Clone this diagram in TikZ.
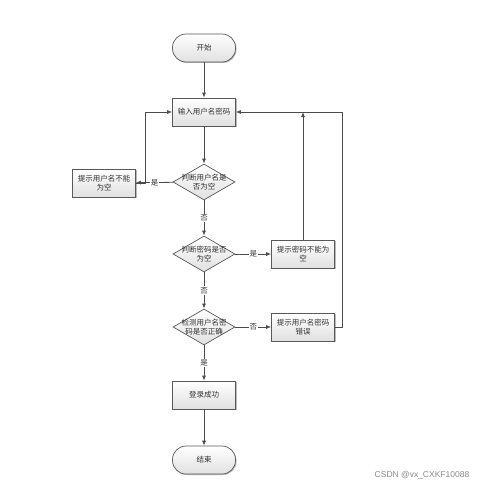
\documentclass[tikz,border=0pt]{standalone}
\usepackage{fontspec}
\newfontfamily\cjk{Noto Sans CJK SC}
\setsansfont{Liberation Sans}
\usetikzlibrary{shapes.geometric,arrows.meta,shadows}
\begin{document}
\begin{tikzpicture}[x=1pt,y=-1pt,
  base/.style={draw=black!65, line width=0.7pt, top color=white, bottom color=black!12,
    align=center, font=\cjk\fontsize{7.5}{9}\selectfont, text=black!80, inner sep=1pt,
    drop shadow={shadow xshift=1pt, shadow yshift=-1pt, fill=black!45, opacity=0.6}},
  box/.style={base, rectangle, minimum width=63pt, minimum height=28pt},
  term/.style={base, rectangle, rounded corners=13.5pt, minimum width=63pt, minimum height=28pt},
  dia/.style={draw=black!65, line width=0.7pt, top color=white, bottom color=black!12,
    diamond, minimum width=62pt, minimum height=36pt, inner sep=0pt},
  txt/.style={align=center, font=\cjk\fontsize{7.5}{9}\selectfont, text=black!80, inner sep=0pt},
  arr/.style={draw=black!70, line width=0.8pt, -{Latex[length=5pt,width=4pt]}},
  lbl/.style={fill=white, inner sep=1pt, text=black!80, font=\cjk\fontsize{7.5}{9}\selectfont}]
\useasboundingbox (0,0) rectangle (479,487);
\fill[white] (0,0) rectangle (479,487);

\node[term] (start) at (204,48) {开始};
\node[box] (input) at (204,112) {输入用户名密码};
\node[dia] (d1) at (204,182) {};
\node[txt] (t1) at (d1) {判断用户名是\\否为空};
\node[box] (lb) at (104,183) {提示用户名不能\\为空};
\node[dia] (d2) at (204,254) {};
\node[txt] (t2) at (d2) {判断密码是否\\为空};
\node[box] (rb2) at (303,254) {提示密码不能为\\空};
\node[dia] (d3) at (204,327) {};
\node[txt] (t3) at (d3) {检测用户名密\\码是否正确};
\node[box] (rb3) at (303,327) {提示用户名密码\\错误};
\node[box] (login) at (204,395) {登录成功};
\node[term] (end) at (204,460) {结束};

\draw[arr] (start) -- (input);
\draw[arr] (input) -- (d1);
\draw[arr] (d1) -- node[lbl]{是} (lb);
\draw[arr] (lb.east) -- ++(10,0) |- (input.west);
\draw[arr] (d1) -- node[lbl]{否} (d2);
\draw[arr] (d2) -- node[lbl]{是} (rb2);
\draw[arr] (rb2.north) -- (rb2.north |- input.east);
\draw[arr] (d2) -- node[lbl]{否} (d3);
\draw[arr] (d3) -- node[lbl]{否} (rb3);
\draw[arr] (rb3.east) -- ++(8,0) |- (input.east);
\draw[arr] (d3) -- node[lbl]{是} (login);
\draw[arr] (login) -- (end);

\node[font=\sffamily\fontsize{8.5}{10}\selectfont, text=black!45, inner sep=0pt] (wm) at (422,475) {CSDN @vx\_CXKF10088};
\end{tikzpicture}
\end{document}
